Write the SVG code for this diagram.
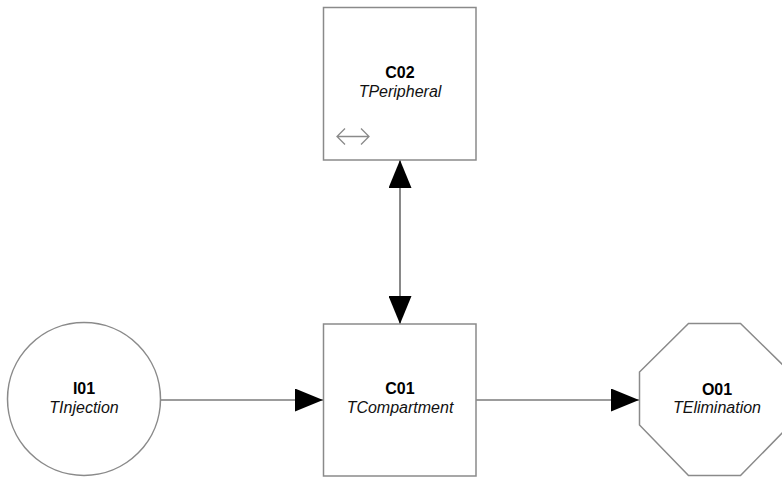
<svg xmlns="http://www.w3.org/2000/svg" width="782" height="477" viewBox="0 0 782 477">
  <style>
    .shape { fill: #ffffff; stroke: #8a8a8a; stroke-width: 1.5; }
    .name { font-family: "Liberation Sans", Arial, sans-serif; font-size: 16px; font-weight: bold; fill: #000; text-anchor: middle; }
    .type { font-family: "Liberation Sans", Arial, sans-serif; font-size: 16px; font-style: italic; fill: #111; text-anchor: middle; }
    .conn { stroke: #3a3a3a; stroke-width: 1.2; fill: none; }
    .icon { stroke: #8a8a8a; stroke-width: 1.3; fill: none; }
  </style>
  <defs>
    <marker id="arrow" markerUnits="userSpaceOnUse" markerWidth="28" markerHeight="23" refX="28" refY="11.5" orient="auto-start-reverse">
      <path d="M0,0 L28,11.5 L0,23 z" fill="#000"/>
    </marker>
  </defs>
  <rect width="782" height="477" fill="#ffffff"/>

  <g id="connectors">
    <line class="conn" x1="160.5" y1="400" x2="323" y2="400" marker-end="url(#arrow)"/>
    <line class="conn" x1="476" y1="400" x2="639" y2="400" marker-end="url(#arrow)"/>
    <line class="conn" x1="400" y1="160" x2="400" y2="324" marker-start="url(#arrow)" marker-end="url(#arrow)"/>
  </g>

  <g id="C02">
    <rect class="shape" x="323.5" y="7.5" width="152.5" height="152.5"/>
    <text class="name" x="400" y="78">C02</text>
    <text class="type" x="400" y="97">TPeripheral</text>
    <path class="icon" d="M337,136.5 L369,136.5 M345,128.5 L337,136.5 L345,144.5 M361,128.5 L369,136.5 L361,144.5"/>
  </g>

  <g id="C01">
    <rect class="shape" x="323.5" y="324" width="152.5" height="152"/>
    <text class="name" x="400" y="394">C01</text>
    <text class="type" x="400" y="413">TCompartment</text>
  </g>

  <g id="I01">
    <circle class="shape" cx="84" cy="399" r="76.5"/>
    <text class="name" x="84" y="394">I01</text>
    <text class="type" x="84" y="413">TInjection</text>
  </g>

  <g id="O01">
    <polygon class="shape" points="688.5,323.5 740.5,323.5 790,372 790,425 740.5,475.5 688.5,475.5 639.5,425 639.5,372"/>
    <text class="name" x="717" y="395">O01</text>
    <text class="type" x="717" y="413">TElimination</text>
  </g>
</svg>
